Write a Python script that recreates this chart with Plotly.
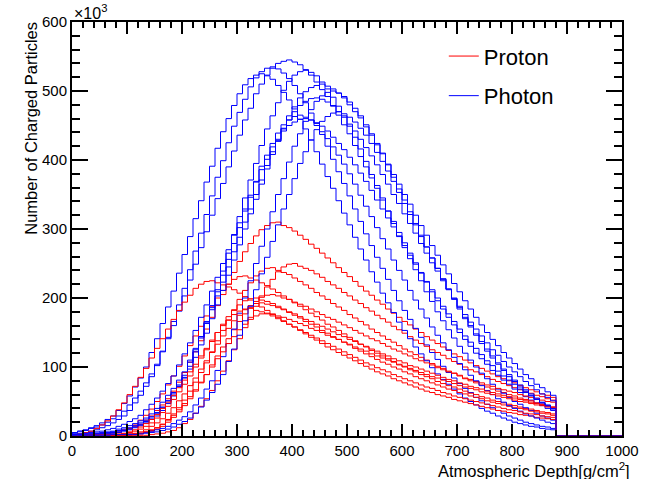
import plotly.graph_objects as go

# Bin layout: 88 bins of 10 g/cm^2 from 0 to 880; values in units of 10^3 particles
bin_width = 10
n_bins = 88

proton_1 = [1,1,2,2,2,3,4,5,7,9,11,14,17,23,29,37,45,54,65,78,92,107,122,138,155,172,189,205,220,237,253,267,279,290,299,305,309,
            310,
            305,302,297,291,285,278,272,265,258,251,244,237,231,224,217,210,204,197,191,184,178,172,166,161,155,150,144,139,134,129,124,119,115,110,106,102,98,94,90,86,83,80,77,73,70,67,64,61,59,56]
proton_2 = [1,1,1,1,1,1,1,1,1,1,1,1,1,1,2,3,4,6,8,12,18,24,33,43,54,66,80,94,109,125,141,157,172,188,203,216,227,238,245,249,
            250,
            246,243,240,235,230,224,219,214,208,203,197,192,186,181,175,170,165,159,154,149,144,139,134,130,125,121,117,112,108,104,100,96,93,89,86,82,79,76,73,70,67,64,62,59,57,54,52]
proton_3 = [1,1,1,1,1,1,1,1,1,1,2,2,4,6,8,12,17,24,32,41,52,65,78,92,106,122,138,153,168,183,198,211,222,232,239,243,
            244,
            240,237,234,229,224,219,214,208,203,198,192,187,182,176,171,166,161,155,150,145,140,136,131,126,122,118,114,110,105,101,98,94,91,87,83,80,77,74,71,68,65,63,60,58,55,53,51,48,46,44,42]
proton_4 = [1,1,1,1,1,2,2,3,5,8,11,16,23,30,39,50,61,74,87,101,116,131,145,159,174,188,200,211,220,227,231,
            232,
            229,226,222,218,213,208,203,198,193,188,183,178,173,168,162,158,153,148,143,138,133,129,124,120,116,112,108,104,100,96,93,89,86,83,79,76,73,71,68,65,62,60,57,55,52,50,48,46,44,42,40,39,37,35,34,32]
proton_5 = [2,3,5,7,11,16,22,29,38,48,60,72,85,98,113,127,141,155,169,182,194,204,214,220,224,
            225,
            222,219,216,212,207,202,197,192,187,182,177,172,167,162,158,153,148,143,139,134,129,125,121,117,113,109,105,101,97,93,90,87,83,80,77,74,71,68,65,63,60,58,56,53,51,49,47,45,43,41,39,37,36,34,33,31,30,29,27,26,25,24]
proton_6 = [0,0,0,0,1,1,1,1,1,1,1,2,3,5,7,10,14,20,27,35,44,54,65,77,89,103,116,129,141,154,166,177,186,195,201,204,
            205,
            203,200,198,194,191,188,184,180,176,172,169,165,161,157,153,149,145,141,138,134,130,126,123,119,116,112,109,106,103,99,96,93,91,88,84,82,79,77,74,72,69,67,65,63,60,58,56,54,52,50,49]
proton_7 = [0,1,1,1,1,1,1,1,2,3,5,7,10,14,19,26,34,43,53,64,75,87,100,113,125,137,150,162,173,182,190,196,199,
            200,
            197,195,192,188,184,179,175,171,166,162,158,153,149,144,140,136,132,127,123,119,115,111,107,104,100,97,93,90,86,83,80,77,74,71,68,66,63,61,58,56,54,51,49,47,45,43,41,40,38,36,35,33,32,30]
proton_8 = [0,0,1,1,1,1,1,1,1,2,3,4,6,9,14,19,25,33,41,51,61,73,84,97,109,121,133,145,156,167,175,183,189,192,
            193,
            191,189,186,183,180,177,173,169,166,162,159,155,151,147,144,140,137,133,130,126,123,119,116,112,109,106,102,100,97,94,91,88,85,82,80,77,75,72,70,68,65,63,61,59,57,55,53,51,49,47,46,44,42]
proton_9 = [1,1,1,1,1,1,1,2,3,4,6,9,13,18,24,31,40,49,59,70,81,93,104,116,127,139,150,160,168,176,181,184,
            185,
            182,180,177,174,170,166,162,158,154,150,146,142,138,134,130,126,122,118,114,110,106,103,99,96,93,89,86,83,80,77,74,71,69,66,63,61,58,56,54,52,50,48,46,44,42,40,38,37,35,33,32,31,29,28,27]
proton_10 = [0,0,0,1,1,1,1,1,1,1,2,3,4,6,9,12,17,23,30,38,47,57,67,78,89,100,112,122,134,144,154,162,169,174,177,
             178,
             176,174,172,169,166,163,160,156,153,150,146,143,140,136,133,129,126,123,119,116,113,110,107,103,101,98,95,92,89,86,84,81,79,76,73,71,69,67,64,62,60,58,56,54,52,50,49,47,45,44,42,41]

photon_1 = [3,4,5,7,9,12,15,19,24,29,37,48,59,72,86,102,123,143,166,190,214,241,268,294,321,348,375,399,425,449,469,488,506,519,528,533,
            535,
            532,526,518,508,496,483,468,453,437,420,401,383,366,348,329,311,293,276,259,243,227,211,196,182,169,156,143,132,121,111,101,92,84,76,69,63,56,51,46,41,37,33,29,26,23,20,18,16,14,13,11]
photon_2 = [5,7,8,11,13,16,20,25,29,36,45,55,65,77,90,104,122,141,160,181,203,226,249,273,296,320,344,366,390,413,436,458,475,496,510,523,533,540,543,
            545,
            542,538,531,523,513,502,492,479,465,451,438,421,405,390,374,359,342,326,311,295,280,265,251,237,223,209,196,184,172,161,150,140,130,120,112,104,95,88,81,75,68,63,57,52,48,44,40,37]
photon_3 = [5,7,9,12,15,19,24,29,37,47,58,71,84,100,121,141,163,187,210,236,263,289,315,341,368,391,417,441,460,479,496,509,518,523,
            525,
            522,517,508,498,487,474,459,445,429,412,394,376,359,341,323,306,288,271,255,238,223,207,193,179,165,153,141,129,119,109,99,90,82,75,68,61,55,50,45,40,36,33,29,26,23,20,18,16,14,13,11,10,9]
photon_4 = [2,2,2,3,3,3,3,4,5,7,9,12,15,19,24,29,37,47,58,72,85,101,122,142,164,189,212,239,265,292,318,345,371,395,421,445,464,483,501,514,523,528,
            530,
            527,522,513,503,491,478,464,449,433,416,398,379,363,345,326,308,290,273,257,241,225,209,195,180,167,154,142,130,120,110,100,91,83,75,68,62,56,50,46,41,37,33,29,26,23]
photon_5 = [2,2,3,3,4,4,5,6,8,10,12,15,19,23,28,34,42,51,61,72,84,97,114,132,149,170,190,211,233,255,277,300,322,343,365,387,408,428,445,464,477,490,499,505,508,
            510,
            507,503,497,490,480,470,461,448,436,422,410,394,379,365,350,336,320,305,291,276,262,248,235,221,209,196,184,172,161,150,140,131,121,113,105,97,89,83,75,70,64,59]
photon_6 = [1,1,2,2,2,2,2,2,2,3,3,3,4,5,7,9,11,14,18,23,28,35,45,55,68,80,95,115,134,155,178,200,225,250,275,300,325,350,373,397,420,438,456,473,485,493,498,
            500,
            497,492,484,475,464,451,438,424,409,393,375,358,342,325,308,291,274,258,243,227,212,198,184,170,158,146,134,123,113,104,95,86,79,71,65,59,53,48,43,39]
photon_7 = [2,2,2,2,2,3,4,5,6,8,10,13,17,21,26,33,41,51,63,74,88,107,125,144,166,186,209,233,256,279,302,326,346,369,391,407,424,439,451,458,463,
            465,
            462,458,450,441,431,419,407,394,380,365,349,333,318,302,286,271,255,240,226,211,197,184,171,158,146,135,125,114,105,96,88,80,73,66,60,54,49,44,40,36,32,29,26,23,20,18]
photon_8 = [3,3,4,5,6,7,9,11,14,17,21,25,30,38,46,55,65,76,87,103,119,135,153,172,190,210,230,250,270,291,309,329,349,368,386,401,419,430,442,450,455,459,
            460,
            458,454,449,442,433,424,415,404,393,381,369,356,342,329,316,303,289,276,262,249,236,224,212,200,188,177,166,155,145,136,127,118,109,102,94,87,81,75,68,63,58,53,48,44,40]
photon_9 = [2,2,3,3,4,5,6,7,10,12,15,18,22,26,32,40,49,59,69,81,93,110,127,144,163,183,203,223,245,267,288,310,329,350,371,392,412,427,446,458,470,479,485,489,
            490,
            488,484,478,470,462,452,442,430,418,406,393,379,365,350,337,322,308,294,279,265,251,239,225,213,200,188,176,165,155,145,135,125,117,108,100,93,86,79,73,67,61,56,51]
photon_10 = [1,1,1,1,1,1,1,2,2,2,2,2,3,4,5,6,8,10,13,17,21,26,33,42,52,63,75,89,108,126,146,167,188,212,235,259,282,306,329,350,373,395,412,429,444,456,463,468,
             470,
             467,462,455,446,436,424,411,398,384,369,353,337,321,306,289,274,258,243,228,213,199,186,172,160,148,137,126,116,106,97,89,81,74,67,61,55,49,45,40]

protons = [proton_1, proton_2, proton_3, proton_4, proton_5,
           proton_6, proton_7, proton_8, proton_9, proton_10]
photons = [photon_1, photon_2, photon_3, photon_4, photon_5,
           photon_6, photon_7, photon_8, photon_9, photon_10]

x_ticks = [0, 100, 200, 300, 400, 500, 600, 700, 800, 900, 1000]
y_ticks = [0, 100, 200, 300, 400, 500, 600]

x_low_edges = [i * bin_width for i in range(n_bins)]
x_end = n_bins * bin_width


def step_xy(vals):
    # outline of a histogram: rise at 0, steps at bin edges, drop at last edge, then baseline
    xs = [0] + x_low_edges + [x_end, 1000]
    ys = [0] + list(vals) + [0, 0]
    return xs, ys


fig = go.Figure()
RED = "#ff0000"
BLUE = "#0000ff"
for k in range(10):
    for vals, col, name, grp in ((protons[k], RED, "Proton", "p"),
                                 (photons[k], BLUE, "Photon", "g")):
        assert len(vals) == n_bins
        xs, ys = step_xy(vals)
        fig.add_trace(go.Scatter(
            x=xs, y=ys, mode="lines", line=dict(color=col, width=1, shape="hv"),
            name=name, legendgroup=grp, showlegend=(k == 0), hoverinfo="skip"))

font_main = "Liberation Sans, Arial, Helvetica, sans-serif"
axis_common = dict(
    showgrid=False, zeroline=False, showline=True, linecolor="black", linewidth=2,
    mirror="ticks", ticks="inside", tickcolor="black", tickwidth=2,
    tickfont=dict(family=font_main, size=15, color="black"),
)
fig.update_xaxes(range=[0, 1000], tickvals=x_ticks, ticklen=12,
                 minor=dict(ticks="inside", dtick=20, ticklen=6, tickwidth=2, tickcolor="black"),
                 **axis_common)
fig.update_yaxes(range=[0, 600], tickvals=y_ticks, ticklen=16,
                 minor=dict(ticks="inside", dtick=20, ticklen=8, tickwidth=2, tickcolor="black"),
                 **axis_common)

fig.update_layout(
    width=651, height=479,
    margin=dict(l=72, r=20, t=22, b=43),
    paper_bgcolor="white", plot_bgcolor="white",
    font=dict(family=font_main, color="black"),
    legend=dict(x=0.676, y=0.968, xanchor="left", yanchor="top",
                font=dict(family=font_main, size=22, color="black"),
                bgcolor="rgba(0,0,0,0)", tracegroupgap=8, itemwidth=30),
    annotations=[
        dict(text="Atmospheric Depth[g/cm<sup>2</sup>]", xref="paper", yref="paper",
             x=1.018, y=-0.081, xanchor="right", yanchor="middle", showarrow=False,
             font=dict(family=font_main, size=16.5, color="black")),
        dict(text="Number of Charged Particles", xref="paper", yref="paper",
             x=-0.074, y=1.005, xanchor="center", yanchor="top", textangle=-90,
             showarrow=False, font=dict(family=font_main, size=16.5, color="black")),
        dict(text="\u00d710<sup>3</sup>", xref="paper", yref="paper",
             x=0.0, y=0.995, xanchor="left", yanchor="bottom", showarrow=False,
             font=dict(family=font_main, size=16, color="black")),
    ],
)

fig.write_html("out.html")
